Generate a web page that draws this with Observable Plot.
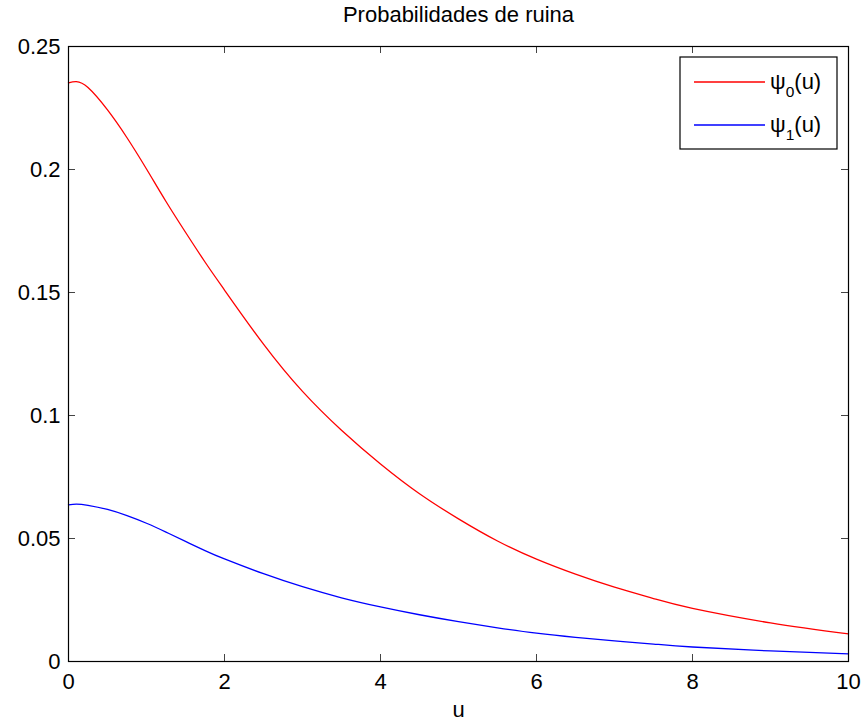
<!DOCTYPE html>
<html>
<head>
<meta charset="utf-8">
<script src="https://cdn.jsdelivr.net/npm/d3@7"></script>
<script src="https://cdn.jsdelivr.net/npm/@observablehq/plot@0.6"></script>
<style>
  body { margin: 0; background: #fff; }
  #chart svg { display: block; }
</style>
</head>
<body>
<div id="chart"></div>
<script>
// ---- data ----
const u = [0, 0.1, 0.25, 0.5, 0.75, 1, 1.25, 1.5, 1.75, 2, 2.5, 3, 3.5, 4, 4.5, 5, 5.5, 6, 6.5, 7, 7.5, 8, 9, 10];
const psi0 = [0.2352, 0.2357, 0.2333, 0.2242, 0.2129, 0.2002, 0.1870, 0.1745, 0.1624, 0.1510, 0.1290, 0.1098, 0.0940, 0.0803, 0.0682, 0.0580, 0.0490, 0.0416, 0.0355, 0.0302, 0.0256, 0.0216, 0.0157, 0.0112];
const psi1 = [0.0637, 0.0640, 0.0635, 0.0618, 0.0593, 0.0562, 0.0526, 0.0488, 0.0451, 0.0417, 0.0357, 0.0304, 0.0259, 0.0222, 0.0190, 0.0162, 0.0137, 0.0115, 0.0098, 0.0084, 0.0071, 0.0059, 0.0043, 0.0031];
const xTicks = [0, 2, 4, 6, 8, 10];
const yTicks = [0, 0.05, 0.1, 0.15, 0.2, 0.25];
const yTickLabels = ["0", "0.05", "0.1", "0.15", "0.2", "0.25"];
const titleText = "Probabilidades de ruina";
const xLabel = "u";
const seriesNames = ["0", "1"];           // subscripts of psi
const seriesColors = ["#ff0000", "#0000ff"];

const rows0 = u.map((x, i) => ({u: x, v: psi0[i]}));
const rows1 = u.map((x, i) => ({u: x, v: psi1[i]}));

const W = 863, H = 722, mL = 68, mR = 15, mT = 46, mB = 61;
const pw = W - mL - mR, ph = H - mT - mB;
const font = "'Liberation Sans', Arial, Helvetica, sans-serif";
const fs = 22;

const chart = Plot.plot({
  width: W, height: H,
  marginLeft: mL, marginRight: mR, marginTop: mT, marginBottom: mB,
  style: {fontFamily: font, fontSize: fs + "px", color: "black", background: "white", overflow: "visible"},
  x: {domain: [0, 10]},
  y: {domain: [0, 0.25]},
  marks: [
    // inward ticks on all four sides
    Plot.tickX(xTicks, {x: d => d, insetTop: ph - 7, stroke: "#444", strokeWidth: 1}),
    Plot.tickX(xTicks, {x: d => d, insetBottom: ph - 7, stroke: "#444", strokeWidth: 1}),
    Plot.tickY(yTicks, {y: d => d, insetRight: pw - 7, stroke: "#444", strokeWidth: 1}),
    Plot.tickY(yTicks, {y: d => d, insetLeft: pw - 7, stroke: "#444", strokeWidth: 1}),
    // tick labels
    Plot.axisX(xTicks, {anchor: "bottom", tickSize: 0, tickPadding: 12, label: null, tickFormat: d => String(d), fontSize: fs}),
    Plot.axisY(yTicks, {anchor: "left", tickSize: 0, tickPadding: 8, label: null, tickFormat: d => yTickLabels[yTicks.indexOf(d)], fontSize: fs}),
    // curves
    Plot.line(rows0, {x: "u", y: "v", stroke: seriesColors[0], strokeWidth: 1.3, curve: "natural"}),
    Plot.line(rows1, {x: "u", y: "v", stroke: seriesColors[1], strokeWidth: 1.3, curve: "natural"}),
    Plot.frame({stroke: "black", strokeWidth: 1.2}),
    // title and axis label
    Plot.text([titleText], {text: d => d, frameAnchor: "top", dy: -32, fontSize: fs, lineAnchor: "middle"}),
    Plot.text([xLabel], {text: d => d, frameAnchor: "bottom", dy: 48, fontSize: fs, lineAnchor: "middle"})
  ]
});

// ---- legend (box in the upper right of the plot area) ----
const svg = d3.select(chart);
const lg = svg.append("g").attr("font-family", font).attr("font-size", fs).attr("text-anchor", "start");
const bx = 680, by = 57, bw = 157, bh = 92;
lg.append("rect").attr("x", bx).attr("y", by).attr("width", bw).attr("height", bh)
  .attr("fill", "white").attr("stroke", "black").attr("stroke-width", 1.2);
seriesNames.forEach((s, i) => {
  const ly = 82 + i * 43;
  lg.append("line").attr("x1", 694).attr("x2", 765).attr("y1", ly).attr("y2", ly)
    .attr("stroke", seriesColors[i]).attr("stroke-width", 1.3);
  const t = lg.append("text").attr("x", 770).attr("y", ly + 7).attr("fill", "black").attr("text-anchor", "start");
  t.append("tspan").text("\u03C8");
  t.append("tspan").attr("font-size", 15.5).attr("dy", 8).text(s);
  t.append("tspan").attr("dy", -8).text("(u)");
});

document.getElementById("chart").appendChild(chart);
</script>
</body>
</html>
